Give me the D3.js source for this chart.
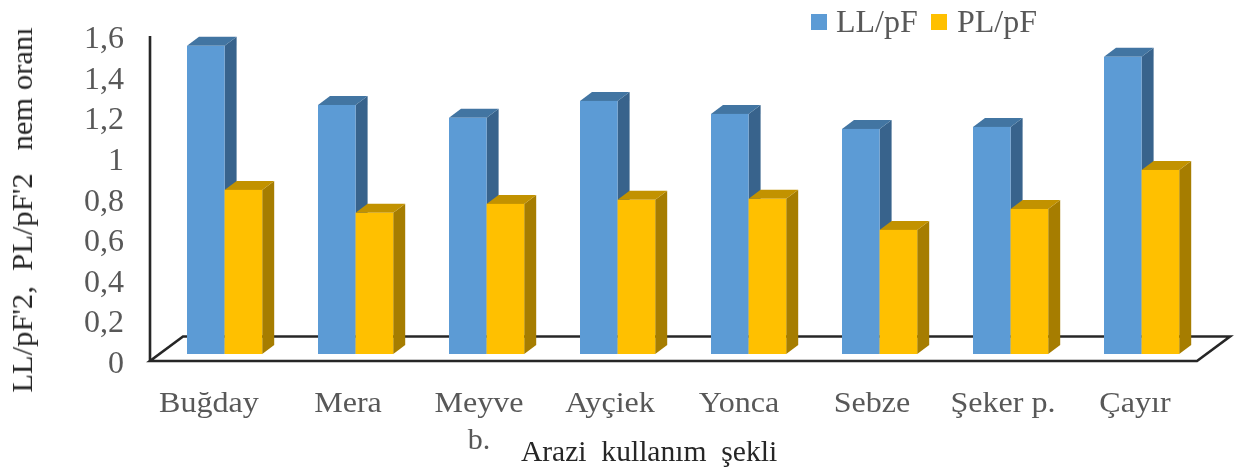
<!DOCTYPE html>
<html><head><meta charset="utf-8">
<script src="https://cdn.jsdelivr.net/npm/d3@7"></script>
<style>html,body{margin:0;padding:0;background:#fff}svg{display:block}text{font-family:"Liberation Serif",serif;fill:#595959}</style>
</head><body><svg id="c" width="1238" height="469"></svg>
<script>
const categories=["Buğday","Mera","Meyve","Ayçiek","Yonca","Sebze","Şeker p.","Çayır"];
const llValues=[1.517,1.226,1.163,1.246,1.182,1.108,1.118,1.463];
const plValues=[0.808,0.695,0.739,0.759,0.764,0.611,0.714,0.906];
const yTicks=[0,0.2,0.4,0.6,0.8,1,1.2,1.4,1.6];
const seriesNames=["LL/pF","PL/pF"];
const palette=[{f:"#5b9bd5",t:"#4375a2",s:"#38648c"},{f:"#ffc000",t:"#c29200",s:"#a67d00"}];

const svg=d3.select("#c");
svg.append("defs").append("filter").attr("id","soft")
 .attr("filterUnits","userSpaceOnUse").attr("x",0).attr("y",0).attr("width",1238).attr("height",469)
 .append("feGaussianBlur").attr("stdDeviation",0.55);
const root=svg.append("g").attr("filter","url(#soft)");
const fmt=v=>String(v).replace(".",",");
const yAxisScale=d3.scaleLinear().domain([0,1.6]).range([361,36]);
const yBar=d3.scaleLinear().domain([0,1.6]).range([354,29]);
const xFront=d3.scalePoint().domain(categories).range([187,1104]);
const barW=37.6, dx=12, dy=9;

root.append("path").attr("fill","none").attr("stroke","#262626").attr("stroke-width",2.6)
 .attr("d","M183,336.5L1230,336.5L1197,361L150,361Z");
root.append("line").attr("x1",150).attr("x2",150).attr("y1",yAxisScale(1.6)).attr("y2",yAxisScale(0))
 .attr("stroke","#262626").attr("stroke-width",2.6);

categories.forEach((c,i)=>{
 [llValues[i],plValues[i]].forEach((v,s)=>{
  const p=palette[s], x0=xFront(c)+s*barW, y0=yBar(v), y1=yBar(0), g=root.append("g");
  g.append("path").attr("fill",p.s).attr("d",`M${x0+barW},${y0}l${dx},${-dy}L${x0+barW+dx},${y1-dy}L${x0+barW},${y1}Z`);
  g.append("path").attr("fill",p.t).attr("d",`M${x0},${y0}l${dx},${-dy}h${barW}l${-dx},${dy}Z`);
  g.append("rect").attr("x",x0).attr("y",y0).attr("width",barW).attr("height",y1-y0).attr("fill",p.f);
 });
});

root.selectAll(".yt").data(yTicks).join("text").attr("class","yt")
 .attr("transform",d=>`translate(124,${yAxisScale(d)+12}) scale(1.05,1)`).attr("text-anchor","end")
 .attr("font-size",30.5).text(fmt);

const catX=[209,348,479,610,739,872,1003,1135];
root.selectAll(".xt").data(categories).join("text").attr("class","xt")
 .attr("transform",(d,i)=>`translate(${catX[i]},412) scale(1.07,1)`).attr("text-anchor","middle")
 .attr("font-size",30).text(d=>d);

root.append("text").attr("x",479).attr("y",449).attr("text-anchor","middle").attr("font-size",30).text("b.");
root.append("text").attr("transform","translate(649,461) scale(1.02,1)").attr("text-anchor","middle").attr("font-size",29).style("fill","#262626").attr("xml:space","preserve").text("Arazi  kullanım  şekli");
root.append("text").attr("transform","translate(32,210) rotate(-90) scale(1.02,1)").attr("text-anchor","middle").attr("font-size",30).style("fill","#262626").attr("xml:space","preserve").text("LL/pF'2,  PL/pF'2   nem oranı");

const lx=[811,931], tx=[836,957];
seriesNames.forEach((n,i)=>{
 root.append("rect").attr("x",lx[i]).attr("y",14).attr("width",16).attr("height",16).attr("fill",palette[i].f);
 root.append("text").attr("x",tx[i]).attr("y",32).attr("font-size",32).text(n);
});
</script></body></html>
